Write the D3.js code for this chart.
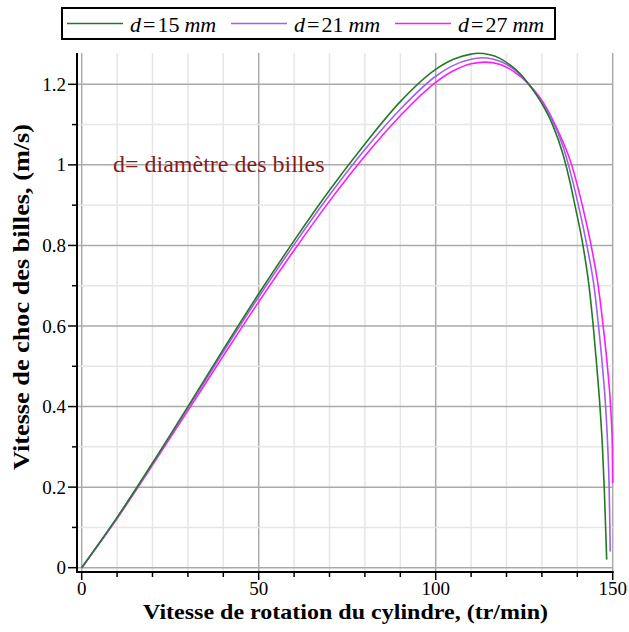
<!DOCTYPE html>
<html>
<head>
<meta charset="utf-8">
<script src="https://cdn.jsdelivr.net/npm/d3@7"></script>
<style>
  body { margin: 0; background: #fff; }
  svg { display: block; font-family: "Liberation Serif", "Times New Roman", serif; }
</style>
</head>
<body>
<div id="chart"></div>
<script>
// vitesse de rotation (tr/min) / vitesse de choc (m/s)
let x15 = [0, 10, 20, 30, 40, 50, 60, 70, 80, 90, 100, 105, 110, 112, 115, 118, 121, 124, 126.3, 130, 133, 136, 138, 139.2, 141.6, 143.3, 144.5, 145.5, 146.4, 147.1, 147.6, 148.0, 148.3];
let v15 = [0, 0.125, 0.26, 0.40, 0.542, 0.68, 0.812, 0.937, 1.052, 1.157, 1.237, 1.262, 1.275, 1.277, 1.274, 1.265, 1.248, 1.225, 1.20, 1.152, 1.10, 1.025, 0.955, 0.905, 0.80, 0.70, 0.60, 0.50, 0.40, 0.30, 0.20, 0.10, 0.02];

let x21 = [0, 10, 20, 30, 40, 50, 60, 70, 80, 90, 100, 105, 110, 113, 116, 119, 122, 124, 126.3, 130, 133, 136, 137.5, 140.3, 142.7, 144.7, 146.0, 147.1, 148.0, 148.6, 149.0, 149.2, 149.3];
let v21 = [0, 0.124, 0.258, 0.396, 0.536, 0.672, 0.802, 0.925, 1.038, 1.138, 1.22, 1.247, 1.262, 1.266, 1.263, 1.254, 1.238, 1.222, 1.20, 1.155, 1.11, 1.045, 1.00, 0.90, 0.80, 0.70, 0.60, 0.50, 0.40, 0.30, 0.20, 0.10, 0.04];

let x27 = [0, 10, 20, 30, 40, 50, 60, 70, 80, 90, 100, 105, 110, 114, 118, 122, 126.3, 130, 134, 138.4, 141.4, 143.9, 145.9, 147.3, 148.5, 149.4, 149.9, 150];
let v27 = [0, 0.122, 0.255, 0.39, 0.526, 0.66, 0.788, 0.91, 1.022, 1.122, 1.205, 1.2335, 1.251, 1.255, 1.25, 1.232, 1.20, 1.16, 1.095, 1.00, 0.90, 0.80, 0.70, 0.60, 0.50, 0.40, 0.30, 0.21];

let diametres = ["15", "21", "27"];
let couleurs = ["#237a23", "#a05ff0", "#ff1aff"];

let xTicks = [0, 50, 100, 150];
let yTicks = [0, 0.2, 0.4, 0.6, 0.8, 1, 1.2];

let series = [
  { d: diametres[0], xs: x15, vs: v15, color: couleurs[0] },
  { d: diametres[1], xs: x21, vs: v21, color: couleurs[1] },
  { d: diametres[2], xs: x27, vs: v27, color: couleurs[2] }
];

let width = 629, height = 632;

let svg = d3.select("#chart").append("svg")
    .attr("width", width)
    .attr("height", height);

let x = d3.scaleLinear().domain([0, 150]).range([81.7, 612.7]);
let y = d3.scaleLinear().domain([0, 1.2]).range([567.7, 84.3]);

let plotTop = 53, axisX = 77, axisY = 572;

// grille
let grid = svg.append("g");
grid.selectAll("line.vmin")
  .data(d3.range(0, 151, 10))
  .enter().append("line")
    .attr("x1", d => x(d)).attr("x2", d => x(d))
    .attr("y1", plotTop).attr("y2", axisY)
    .attr("stroke", d => d % 50 === 0 ? "#aaaaaa" : "#e6e6e6")
    .attr("stroke-width", 1.5);
grid.selectAll("line.hmin")
  .data(d3.range(0, 13).map(i => i / 10))
  .enter().append("line")
    .attr("x1", axisX).attr("x2", x(150))
    .attr("y1", d => y(d)).attr("y2", d => y(d))
    .attr("stroke", (d, i) => i % 2 === 0 ? "#aaaaaa" : "#e6e6e6")
    .attr("stroke-width", 1.5);

// axes
let ax = svg.append("g").attr("stroke", "#000");
ax.append("line").attr("x1", axisX).attr("x2", axisX).attr("y1", plotTop).attr("y2", axisY + 1).attr("stroke-width", 2);
ax.append("line").attr("x1", axisX - 1).attr("x2", x(150) + 1).attr("y1", axisY).attr("y2", axisY).attr("stroke-width", 2);

ax.selectAll("line.xt")
  .data(d3.range(0, 151, 10))
  .enter().append("line")
    .attr("x1", d => x(d)).attr("x2", d => x(d))
    .attr("y1", axisY).attr("y2", d => axisY + (d % 50 === 0 ? 8 : 5))
    .attr("stroke-width", 1.5);
ax.selectAll("line.yt")
  .data(d3.range(0, 13).map(i => i / 10))
  .enter().append("line")
    .attr("x1", axisX).attr("x2", (d, i) => axisX - (i % 2 === 0 ? 9 : 5))
    .attr("y1", d => y(d)).attr("y2", d => y(d))
    .attr("stroke-width", 1.5);

svg.selectAll("text.xl")
  .data(xTicks)
  .enter().append("text")
    .attr("x", d => x(d)).attr("y", 595)
    .attr("text-anchor", "middle")
    .attr("font-size", 19)
    .text(d => d);
svg.selectAll("text.yl")
  .data(yTicks)
  .enter().append("text")
    .attr("x", 66).attr("y", d => y(d) + 6.5)
    .attr("text-anchor", "end")
    .attr("font-size", 19)
    .text(d => d);

// courbes
let line = d3.line().curve(d3.curveMonotoneX);
svg.selectAll("path.c")
  .data(series.slice().reverse())
  .enter().append("path")
    .attr("d", s => line(s.xs.map((v, i) => [x(v), y(s.vs[i])])))
    .attr("fill", "none")
    .attr("stroke", s => s.color)
    .attr("stroke-width", 1.6);

// titres
svg.append("text")
    .attr("x", 143).attr("y", 619)
    .attr("font-size", 22).attr("font-weight", "bold")
    .attr("textLength", 405).attr("lengthAdjust", "spacingAndGlyphs")
    .text("Vitesse de rotation du cylindre, (tr/min)");
svg.append("text")
    .attr("transform", "translate(29,470) rotate(-90)")
    .attr("font-size", 23).attr("font-weight", "bold")
    .attr("textLength", 346).attr("lengthAdjust", "spacingAndGlyphs")
    .text("Vitesse de choc des billes, (m/s)");

svg.append("text")
    .attr("x", 113).attr("y", 172)
    .attr("fill", "#8b1a1a")
    .attr("font-size", 24)
    .text("d= diamètre des billes");

// légende
let lg = svg.append("g");
lg.append("rect")
    .attr("x", 62).attr("y", 8).attr("width", 493).attr("height", 31)
    .attr("fill", "#fff").attr("stroke", "#000").attr("stroke-width", 2);
let item = lg.selectAll("g.it")
  .data(series)
  .enter().append("g")
    .attr("transform", (s, i) => "translate(" + (67 + i * 164) + ",0)");
item.append("line")
    .attr("x1", 0).attr("x2", 56).attr("y1", 23.5).attr("y2", 23.5)
    .attr("stroke", s => s.color).attr("stroke-width", 1.6);
let lt = item.append("text").attr("x", 63).attr("y", 32).attr("font-size", 22);
lt.append("tspan").attr("font-style", "italic").text("d");
lt.append("tspan").attr("dx", 2).text("=");
lt.append("tspan").attr("dx", 2).text(s => s.d);
lt.append("tspan").attr("dx", 5).attr("font-style", "italic").text("mm");
</script>
</body>
</html>
